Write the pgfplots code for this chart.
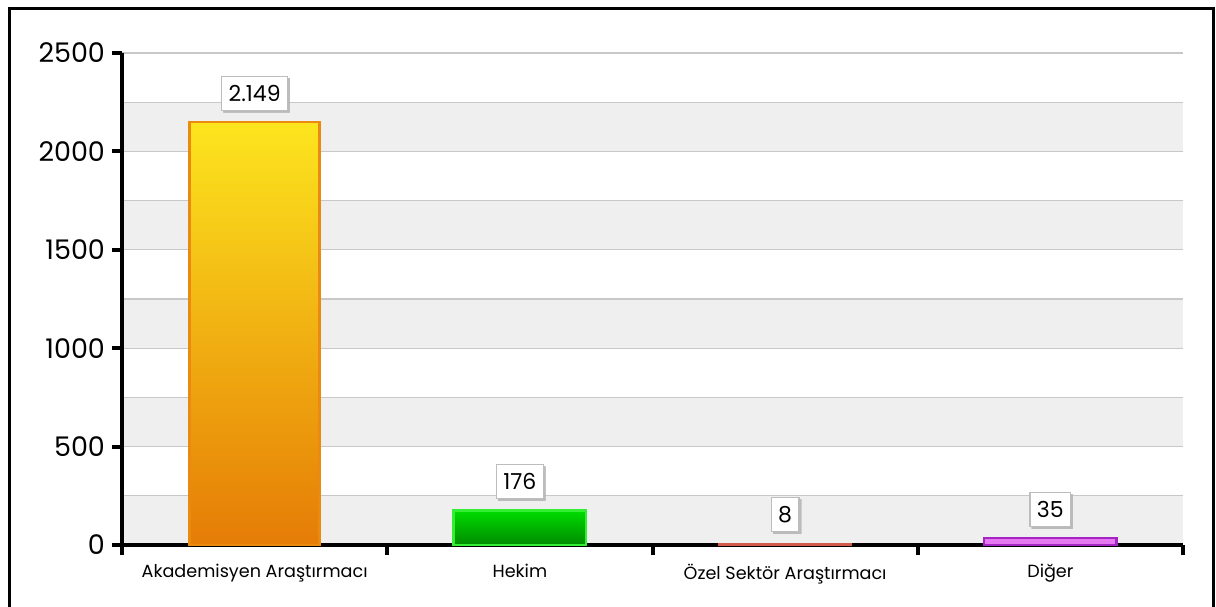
\documentclass[border=0pt]{standalone}
\usepackage{fontspec}
\setmainfont{Poppins}
\usepackage{pgfplots}
\pgfplotsset{compat=1.18}
\usetikzlibrary{shadows}
\definecolor{band}{HTML}{EFEFEF}
\definecolor{gridgray}{HTML}{C8C8C8}
\definecolor{boxgray}{HTML}{BDBDBD}
\definecolor{shadowgray}{HTML}{B0B0B0}
\definecolor{akaTop}{HTML}{FCE51E}
\definecolor{akaBot}{HTML}{E57C06}
\definecolor{akaEdge}{HTML}{EA8A10}
\definecolor{hekTop}{HTML}{00DD00}
\definecolor{hekBot}{HTML}{008A00}
\definecolor{hekEdge}{HTML}{33EE33}
\definecolor{ozelFill}{HTML}{D35A4A}
\definecolor{digTop}{HTML}{E678F2}
\definecolor{digEdge}{HTML}{A524C4}

\begin{document}
\begin{tikzpicture}
\begin{axis}[
  set layers,
  at={(61pt,30.5pt)}, anchor=south west,
  scale only axis, width=530.5pt, height=246pt,
  xmin=-0.5, xmax=3.5, ymin=0, ymax=2500,
  axis lines*=left,
  axis line style={line width=2pt, black},
  xtick={-0.5,0.5,1.5,2.5,3.5}, xticklabels={},
  extra x ticks={0,1,2,3},
  extra x tick labels={Akademisyen Araştırmacı, Hekim, Özel Sektör Araştırmacı, Diğer},
  extra x tick style={major tick length=0pt, grid=none,
    tick label style={font=\fontsize{8.8}{11}\selectfont, yshift=-6pt}},
  ytick={0,500,...,2500},
  minor ytick={250,750,...,2250},
  ymajorgrids, yminorgrids,
  major grid style={gridgray, line width=0.6pt},
  minor grid style={gridgray, line width=0.6pt},
  tick align=outside,
  major tick length=5pt, minor tick length=0pt,
  tick style={black, line width=2pt},
  y tick label style={font=\fontsize{13.5}{16}\selectfont},
  /pgf/number format/assume math mode=true,
  /pgf/number format/1000 sep={},
  nodes near coords={\pgfmathprintnumber[1000 sep={.}]{\pgfplotspointmeta}},
  every node near coord/.append style={font=\fontsize{11}{13}\selectfont, text=black,
    fill=white, draw=boxgray, line width=0.6pt, inner xsep=3.5pt, inner ysep=4.5pt,
    text height=8pt, text depth=0pt, anchor=south, yshift=5.5pt,
    drop shadow={shadow xshift=1pt, shadow yshift=-1pt, fill=shadowgray,
      top color=shadowgray, bottom color=shadowgray, opacity=0.6}},
]
\pgfplotsextra{%
\begin{pgfonlayer}{axis background}
\fill[band] (axis cs:-0.5,0) rectangle (axis cs:3.5,250);
\fill[band] (axis cs:-0.5,500) rectangle (axis cs:3.5,750);
\fill[band] (axis cs:-0.5,1000) rectangle (axis cs:3.5,1250);
\fill[band] (axis cs:-0.5,1500) rectangle (axis cs:3.5,1750);
\fill[band] (axis cs:-0.5,2000) rectangle (axis cs:3.5,2250);
\end{pgfonlayer}}
\addplot[ybar, bar width=0.49, bar shift=0pt, draw=akaEdge, line width=1.2pt,
  top color=akaTop, bottom color=akaBot] coordinates {(0,2149)};
\addplot[ybar, bar width=0.5, bar shift=0pt, draw=hekEdge, line width=1.2pt,
  top color=hekTop, bottom color=hekBot] coordinates {(1,176)};
\addplot[ybar, bar width=0.5, bar shift=0pt, draw=ozelFill, line width=0.8pt,
  fill=ozelFill] coordinates {(2,8)};
\addplot[ybar, bar width=0.5, bar shift=0pt, draw=digEdge, line width=1.2pt,
  fill=digTop] coordinates {(3,35)};
\end{axis}
\pgfresetboundingbox
\useasboundingbox (0,0) rectangle (608pt,303pt);
\draw[line width=1.5pt] (4.5pt,-5pt) -- (4.5pt,298.5pt) -- (606.5pt,298.5pt) -- (606.5pt,-5pt);
\end{tikzpicture}
\end{document}
